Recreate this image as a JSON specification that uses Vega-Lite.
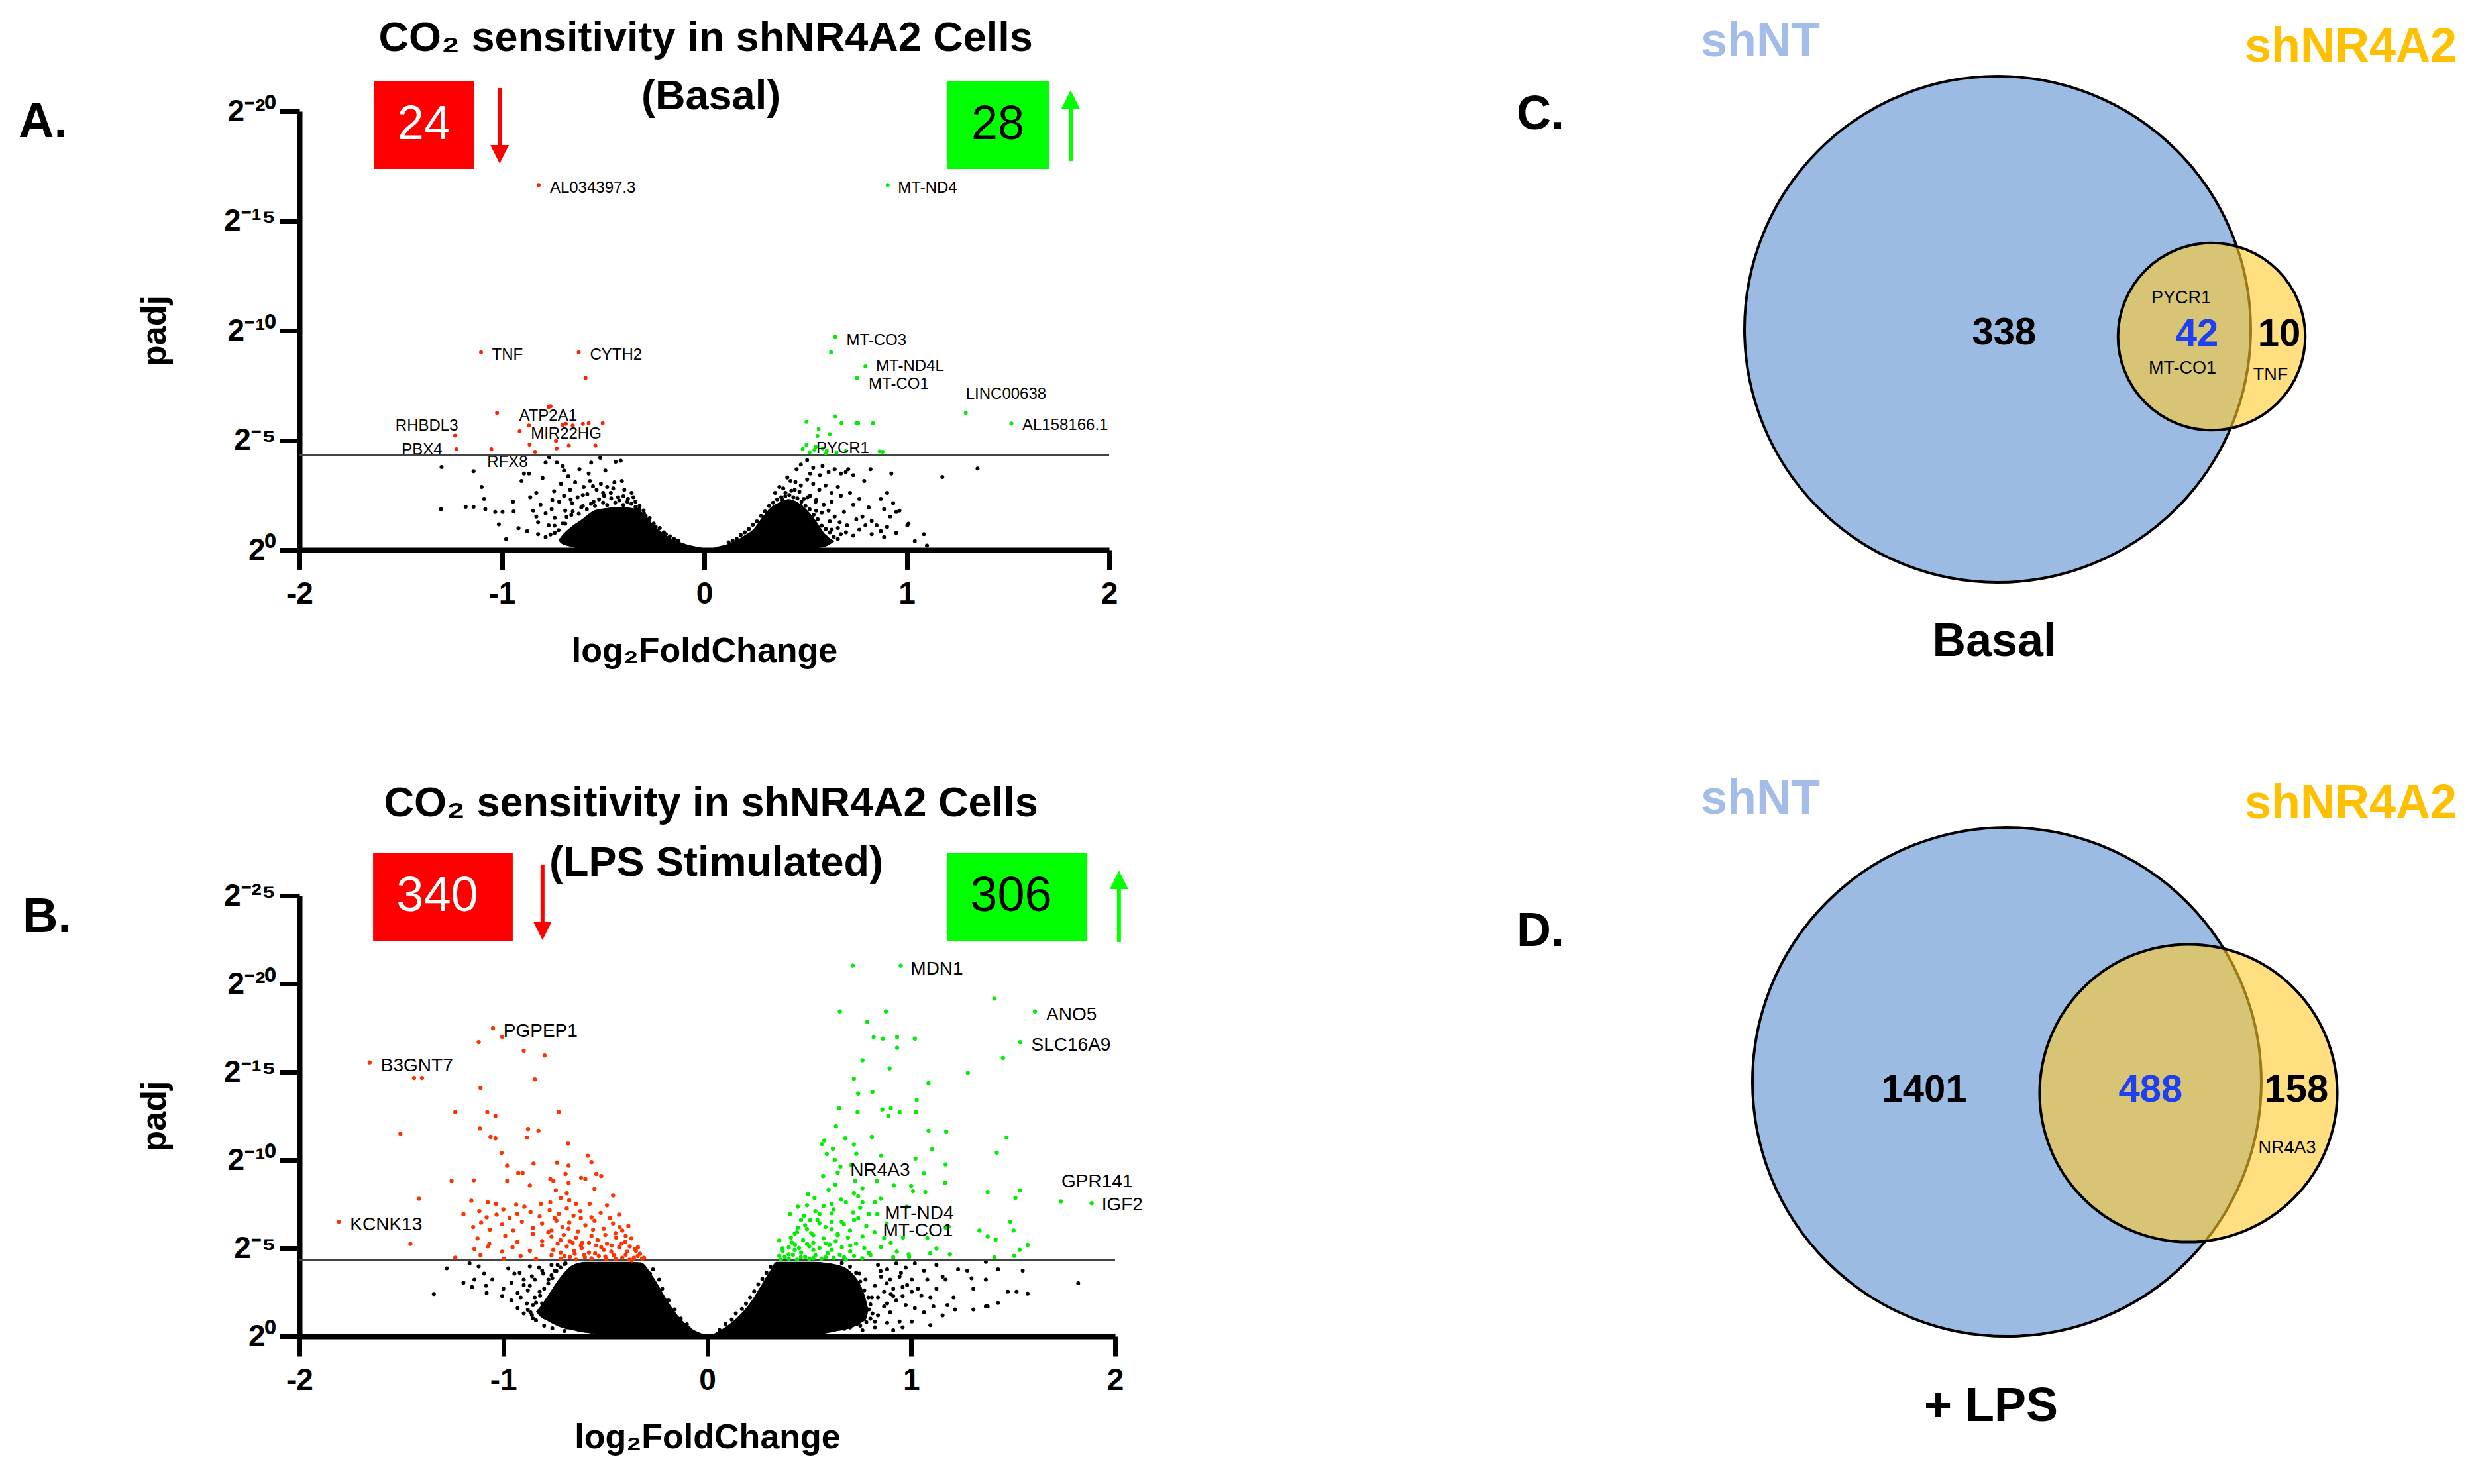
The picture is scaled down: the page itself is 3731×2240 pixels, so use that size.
{
"$schema": "https://vega.github.io/schema/vega-lite/v6.json",
"autosize": {"type": "none"},
"padding": {"left": 452, "top": 168, "right": 3279, "bottom": 2072},
"background": "white",
"config": {
 "view": {"stroke": null},
 "font": "Liberation Sans",
 "axis": {"grid": false, "domainColor": "black", "domainWidth": 8, "tickColor": "black", "tickWidth": 7, "tickSize": 30, "labelFont": "Liberation Sans", "labelFontSize": 46, "labelFontWeight": "bold", "labelColor": "black", "titleFont": "Liberation Sans", "titleFontSize": 52, "titleFontWeight": "bold", "titleColor": "black", "labelFlush": false, "labelOverlap": false}
},
"datasets": {
 "A_core": [
  {"lfc":-0.72,"nl":0.45,"nl2":0.45,"side":"L"},{"lfc":-0.708,"nl":0.6,"nl2":0.3,"side":"L"},{"lfc":-0.663,"nl":1.01,"nl2":0.15,"side":"L"},{"lfc":-0.602,"nl":1.41,"nl2":0.06,"side":"L"},{"lfc":-0.541,"nl":1.81,"nl2":0.06,"side":"L"},{"lfc":-0.48,"nl":1.91,"nl2":0.06,"side":"L"},{"lfc":-0.419,"nl":1.96,"nl2":0.06,"side":"L"},{"lfc":-0.359,"nl":1.91,"nl2":0.06,"side":"L"},{"lfc":-0.313,"nl":1.76,"nl2":0.06,"side":"L"},{"lfc":-0.267,"nl":1.31,"nl2":0.06,"side":"L"},{"lfc":-0.222,"nl":0.91,"nl2":0.06,"side":"L"},{"lfc":-0.176,"nl":0.6,"nl2":0.06,"side":"L"},{"lfc":-0.116,"nl":0.35,"nl2":0.06,"side":"L"},{"lfc":-0.055,"nl":0.18,"nl2":0.06,"side":"L"},{"lfc":-0.009,"nl":0.1,"nl2":0.06,"side":"L"},
  {"lfc":0.04,"nl":0.08,"nl2":0.06,"side":"R"},{"lfc":0.067,"nl":0.15,"nl2":0.06,"side":"R"},{"lfc":0.128,"nl":0.3,"nl2":0.06,"side":"R"},{"lfc":0.188,"nl":0.6,"nl2":0.06,"side":"R"},{"lfc":0.249,"nl":1.01,"nl2":0.06,"side":"R"},{"lfc":0.28,"nl":1.41,"nl2":0.06,"side":"R"},{"lfc":0.325,"nl":1.91,"nl2":0.06,"side":"R"},{"lfc":0.371,"nl":2.17,"nl2":0.06,"side":"R"},{"lfc":0.416,"nl":2.32,"nl2":0.06,"side":"R"},{"lfc":0.462,"nl":2.17,"nl2":0.06,"side":"R"},{"lfc":0.508,"nl":1.81,"nl2":0.06,"side":"R"},{"lfc":0.553,"nl":1.31,"nl2":0.08,"side":"R"},{"lfc":0.599,"nl":0.7,"nl2":0.15,"side":"R"},{"lfc":0.644,"nl":0.4,"nl2":0.4,"side":"R"}
 ],
 "A_ns": [
  {"lfc":-1.298,"nl":3.78},{"lfc":-1.14,"nl":3.59},{"lfc":-1.1,"nl":2.87},{"lfc":-1.088,"nl":2.33},{"lfc":-1.301,"nl":1.86},{"lfc":-1.179,"nl":1.96},{"lfc":-1.14,"nl":1.96},{"lfc":-1.082,"nl":1.86},{"lfc":-1.033,"nl":1.73},{"lfc":-0.997,"nl":1.73},{"lfc":-1.015,"nl":1.16},{"lfc":-0.979,"nl":0.49},{"lfc":-0.945,"nl":2.2},{"lfc":-0.942,"nl":1.75},{"lfc":-0.918,"nl":0.99},{"lfc":-0.903,"nl":3.14},{"lfc":-0.891,"nl":3.48},{"lfc":-0.866,"nl":3.48},{"lfc":-0.799,"nl":3.28},{"lfc":-0.766,"nl":4.22},{"lfc":-0.784,"nl":3.98},{"lfc":-0.729,"nl":3.98},{"lfc":-0.693,"nl":3.62},{"lfc":-0.672,"nl":3.35},{"lfc":-0.559,"nl":3.98},{"lfc":-0.514,"nl":4.2},{"lfc":-0.489,"nl":3.62},{"lfc":-0.438,"nl":4.02},{"lfc":-0.413,"nl":4.06},{"lfc":-0.742,"nl":2.67},{"lfc":-0.751,"nl":2.27},
  {"lfc":-0.845,"nl":1.79},{"lfc":-0.83,"nl":1.52},{"lfc":-0.821,"nl":1.26},{"lfc":-0.809,"nl":2.06},{"lfc":-0.784,"nl":1.66},{"lfc":-0.769,"nl":1.12},{"lfc":-0.754,"nl":1.86},{"lfc":-0.739,"nl":1.46},{"lfc":-0.717,"nl":2.2},{"lfc":-0.708,"nl":3.01},{"lfc":-0.693,"nl":2.47},{"lfc":-0.687,"nl":1.79},{"lfc":-0.663,"nl":2.74},{"lfc":-0.653,"nl":2.13},{"lfc":-0.638,"nl":3.08},{"lfc":-0.626,"nl":2.4},{"lfc":-0.608,"nl":1.93},{"lfc":-0.596,"nl":2.87},{"lfc":-0.578,"nl":2.54},{"lfc":-0.565,"nl":3.14},{"lfc":-0.547,"nl":2.2},{"lfc":-0.532,"nl":2.74},{"lfc":-0.511,"nl":3.01},{"lfc":-0.495,"nl":2.47},{"lfc":-0.48,"nl":2.87},{"lfc":-0.462,"nl":2.6},{"lfc":-0.444,"nl":3.08},{"lfc":-0.426,"nl":2.4},{"lfc":-0.407,"nl":3.14},{"lfc":-0.395,"nl":2.74},{"lfc":-0.377,"nl":2.33},{"lfc":-0.359,"nl":2.6},{"lfc":-0.34,"nl":2.2},{"lfc":-0.322,"nl":1.86},{"lfc":-0.298,"nl":1.66},{"lfc":-0.274,"nl":1.39},{"lfc":-0.821,"nl":0.72},{"lfc":-0.784,"nl":0.58},{"lfc":-0.739,"nl":0.78},{"lfc":-0.708,"nl":0.45},{"lfc":-0.875,"nl":0.85},{"lfc":-0.617,"nl":3.68},{"lfc":-0.571,"nl":3.48},{"lfc":-0.699,"nl":3.82},{"lfc":-0.83,"nl":2.6},{"lfc":-0.86,"nl":2.4},{"lfc":-0.657,"nl":1.59},{"lfc":-0.687,"nl":1.19},{"lfc":-0.647,"nl":0.85},{"lfc":-0.626,"nl":0.58},
  {"lfc":-0.7,"nl":1.2},{"lfc":-0.68,"nl":1.5},{"lfc":-0.65,"nl":1.75},{"lfc":-0.62,"nl":1.65},{"lfc":-0.6,"nl":2.0},{"lfc":-0.58,"nl":1.85},{"lfc":-0.56,"nl":2.1},{"lfc":-0.54,"nl":2.0},{"lfc":-0.52,"nl":2.3},{"lfc":-0.5,"nl":2.15},{"lfc":-0.48,"nl":2.05},{"lfc":-0.46,"nl":2.35},{"lfc":-0.44,"nl":2.15},{"lfc":-0.42,"nl":2.25},{"lfc":-0.4,"nl":2.05},{"lfc":-0.38,"nl":2.2},{"lfc":-0.36,"nl":2.1},{"lfc":-0.34,"nl":1.95},{"lfc":-0.32,"nl":2.0},{"lfc":-0.3,"nl":1.8},{"lfc":-0.29,"nl":1.55},{"lfc":-0.27,"nl":1.45},{"lfc":-0.25,"nl":1.2},{"lfc":-0.24,"nl":1.05},{"lfc":-0.22,"nl":1.0},{"lfc":-0.2,"nl":0.8},{"lfc":-0.19,"nl":0.72},{"lfc":-0.17,"nl":0.62},{"lfc":-0.15,"nl":0.5},{"lfc":-0.13,"nl":0.42},{"lfc":-0.72,"nl":0.9},{"lfc":-0.74,"nl":1.1},{"lfc":-0.76,"nl":0.7},{"lfc":-0.66,"nl":2.3},{"lfc":-0.6,"nl":2.5},{"lfc":-0.5,"nl":2.6},{"lfc":-0.45,"nl":2.8},{"lfc":-0.4,"nl":2.45},{"lfc":-0.35,"nl":2.4},{"lfc":-0.55,"nl":2.9},
  {"lfc":1.176,"nl":3.32},{"lfc":1.35,"nl":3.71},{"lfc":0.924,"nl":3.48},{"lfc":0.821,"nl":3.68},{"lfc":0.79,"nl":3.14},{"lfc":0.711,"nl":3.68},{"lfc":0.699,"nl":3.55},{"lfc":0.675,"nl":3.48},{"lfc":0.644,"nl":3.68},{"lfc":0.614,"nl":3.55},{"lfc":0.584,"nl":3.82},{"lfc":0.538,"nl":3.75},{"lfc":0.508,"nl":4.09},{"lfc":0.477,"nl":3.89},{"lfc":0.456,"nl":3.68},{"lfc":0.523,"nl":3.48},{"lfc":0.571,"nl":3.41},{"lfc":0.736,"nl":3.41},{"lfc":0.903,"nl":2.6},{"lfc":0.872,"nl":2.33},{"lfc":0.888,"nl":1.86},{"lfc":0.933,"nl":2.13},{"lfc":0.948,"nl":1.73},{"lfc":0.918,"nl":1.52},{"lfc":0.964,"nl":1.79},{"lfc":0.812,"nl":1.93},{"lfc":0.781,"nl":1.52},{"lfc":0.827,"nl":1.32},{"lfc":0.851,"nl":1.12},{"lfc":1.003,"nl":1.12},{"lfc":1.009,"nl":1.19},{"lfc":0.903,"nl":1.05},{"lfc":0.872,"nl":0.85},{"lfc":0.948,"nl":0.78},{"lfc":1.04,"nl":0.4},{"lfc":1.085,"nl":0.72},{"lfc":1.1,"nl":0.2},{"lfc":0.766,"nl":0.92},{"lfc":0.736,"nl":0.65},{"lfc":0.705,"nl":1.12},{"lfc":0.69,"nl":1.73},{"lfc":0.675,"nl":2.47},{"lfc":0.66,"nl":2.87},{"lfc":0.629,"nl":2.6},{"lfc":0.599,"nl":2.94},{"lfc":0.568,"nl":2.74},{"lfc":0.538,"nl":3.01},{"lfc":0.508,"nl":3.21},{"lfc":0.477,"nl":2.94},{"lfc":0.447,"nl":2.74},{"lfc":0.426,"nl":3.14},{"lfc":0.401,"nl":2.6},{"lfc":0.386,"nl":2.27},{"lfc":0.371,"nl":2.87},{"lfc":0.553,"nl":2.27},{"lfc":0.59,"nl":2.06},{"lfc":0.614,"nl":1.79},{"lfc":0.644,"nl":1.52},{"lfc":0.669,"nl":1.26},{"lfc":0.629,"nl":0.92},{"lfc":0.675,"nl":0.72},{"lfc":0.599,"nl":0.58},{"lfc":0.568,"nl":0.38},{"lfc":0.736,"nl":2.06},{"lfc":0.766,"nl":2.33},{"lfc":0.72,"nl":2.6},{"lfc":0.629,"nl":2.2},{"lfc":0.523,"nl":2.47},{"lfc":0.492,"nl":2.33},{"lfc":0.553,"nl":1.79},{"lfc":0.477,"nl":2.0},{"lfc":0.751,"nl":1.39},{"lfc":0.796,"nl":1.12},{"lfc":0.827,"nl":0.72},{"lfc":0.888,"nl":0.58},
  {"lfc":0.12,"nl":0.35},{"lfc":0.14,"nl":0.42},{"lfc":0.16,"nl":0.5},{"lfc":0.18,"nl":0.68},{"lfc":0.2,"nl":0.8},{"lfc":0.22,"nl":0.95},{"lfc":0.24,"nl":1.15},{"lfc":0.26,"nl":1.3},{"lfc":0.28,"nl":1.55},{"lfc":0.3,"nl":1.75},{"lfc":0.32,"nl":2.0},{"lfc":0.34,"nl":2.15},{"lfc":0.36,"nl":2.3},{"lfc":0.38,"nl":2.4},{"lfc":0.4,"nl":2.45},{"lfc":0.42,"nl":2.5},{"lfc":0.44,"nl":2.4},{"lfc":0.46,"nl":2.35},{"lfc":0.48,"nl":2.2},{"lfc":0.5,"nl":2.0},{"lfc":0.52,"nl":1.85},{"lfc":0.54,"nl":1.6},{"lfc":0.56,"nl":1.4},{"lfc":0.58,"nl":1.1},{"lfc":0.6,"nl":0.95},{"lfc":0.62,"nl":0.8},{"lfc":0.64,"nl":0.6},{"lfc":0.66,"nl":0.5},{"lfc":0.35,"nl":2.6},{"lfc":0.39,"nl":2.8},{"lfc":0.43,"nl":2.7},{"lfc":0.47,"nl":2.65},{"lfc":0.51,"nl":2.4},{"lfc":0.45,"nl":3.1},{"lfc":0.41,"nl":3.3},{"lfc":0.55,"nl":2.2},{"lfc":0.58,"nl":1.7},{"lfc":0.62,"nl":1.3},{"lfc":0.66,"nl":1.0},{"lfc":0.7,"nl":0.8}
 ],
 "A_dn": [
  {"lfc":-0.818,"nl":16.64},{"lfc":-1.103,"nl":9.01},{"lfc":-0.62,"nl":9.01},{"lfc":-0.587,"nl":7.84},{"lfc":-0.769,"nl":6.52},{"lfc":-0.76,"nl":6.55},{"lfc":-1.024,"nl":6.25},{"lfc":-0.866,"nl":5.67},{"lfc":-0.684,"nl":5.75},{"lfc":-0.65,"nl":5.67},{"lfc":-0.571,"nl":5.78},{"lfc":-0.502,"nl":5.78},{"lfc":-0.912,"nl":5.41},{"lfc":-1.231,"nl":5.21},{"lfc":-0.733,"nl":4.97},{"lfc":-0.863,"nl":4.8},{"lfc":-0.669,"nl":4.76},{"lfc":-0.538,"nl":4.76},{"lfc":-1.225,"nl":4.59},{"lfc":-1.052,"nl":4.59},{"lfc":-0.73,"nl":4.63},{"lfc":-0.836,"nl":4.47},{"lfc":-0.7,"nl":5.7},{"lfc":-0.6,"nl":5.75}
 ],
 "A_up": [
  {"lfc":0.906,"nl":16.64},{"lfc":0.647,"nl":9.72},{"lfc":0.626,"nl":9.01},{"lfc":0.796,"nl":8.37},{"lfc":0.754,"nl":7.84},{"lfc":1.292,"nl":6.25},{"lfc":1.517,"nl":5.76},{"lfc":0.647,"nl":6.09},{"lfc":0.505,"nl":5.84},{"lfc":0.678,"nl":5.78},{"lfc":0.751,"nl":5.78},{"lfc":0.76,"nl":5.78},{"lfc":0.833,"nl":5.78},{"lfc":0.565,"nl":5.51},{"lfc":0.62,"nl":5.28},{"lfc":0.559,"nl":5.2},{"lfc":0.505,"nl":4.79},{"lfc":0.486,"nl":4.6},{"lfc":0.544,"nl":4.56},{"lfc":0.584,"nl":4.63},{"lfc":0.653,"nl":4.43},{"lfc":0.866,"nl":4.49},{"lfc":0.881,"nl":4.47},{"lfc":0.605,"nl":4.52},{"lfc":0.6,"nl":4.4},{"lfc":0.52,"nl":4.45},{"lfc":0.7,"nl":4.5},{"lfc":0.55,"nl":4.7}
 ],
 "A_lab": [
  {"lfc":-0.763,"nl":16.5,"t":"AL034397.3"},{"lfc":0.957,"nl":16.5,"t":"MT-ND4"},{"lfc":-1.049,"nl":8.88,"t":"TNF"},{"lfc":-0.565,"nl":8.88,"t":"CYTH2"},{"lfc":-0.915,"nl":6.11,"t":"ATP2A1"},{"lfc":-0.857,"nl":5.28,"t":"MIR22HG"},{"lfc":-1.526,"nl":5.64,"t":"RHBDL3"},{"lfc":-1.495,"nl":4.56,"t":"PBX4"},{"lfc":-1.073,"nl":3.98,"t":"RFX8"},{"lfc":0.702,"nl":9.55,"t":"MT-CO3"},{"lfc":0.848,"nl":8.36,"t":"MT-ND4L"},{"lfc":0.812,"nl":7.56,"t":"MT-CO1"},{"lfc":1.292,"nl":7.09,"t":"LINC00638"},{"lfc":1.571,"nl":5.68,"t":"AL158166.1"},{"lfc":0.553,"nl":4.63,"t":"PYCR1"}
 ],
 "A_title": [{"lfc":0.007,"nl":22.75,"t":"CO₂ sensitivity in shNR4A2 Cells"},{"lfc":0.033,"nl":20.09,"t":"(Basal)"}],
 "A_box": [{"lfc":-1.633,"lfc2":-1.136,"nl":21.39,"nl2":17.37,"dir":"down"},{"lfc":1.201,"lfc2":1.702,"nl":21.39,"nl2":17.37,"dir":"up"}],
 "A_cnt": [{"lfc":-1.385,"nl":19.4,"t":"24","dir":"down"},{"lfc":1.45,"nl":19.4,"t":"28","dir":"up"}],
 "A_arrow": [{"lfc":-1.011,"nl":21.06,"nl2":18.43,"dir":"down"},{"lfc":1.81,"nl":17.73,"nl2":20.3,"dir":"up"}],
 "A_head": [{"lfc":-1.011,"nl":18.04,"dir":"down"},{"lfc":1.81,"nl":20.54,"dir":"up"}],
 "A_letter": [{"lfc":-3.388,"nl":18.82,"t":"A."}],
 "B_core": [
  {"lfc":-0.84,"nl":1.4,"nl2":1.4,"side":"L"},{"lfc":-0.825,"nl":1.6,"nl2":1.18,"side":"L"},{"lfc":-0.779,"nl":2.36,"nl2":0.84,"side":"L"},{"lfc":-0.719,"nl":3.38,"nl2":0.51,"side":"L"},{"lfc":-0.659,"nl":4.05,"nl2":0.34,"side":"L"},{"lfc":-0.598,"nl":4.22,"nl2":0.2,"side":"L"},{"lfc":-0.387,"nl":4.22,"nl2":0.08,"side":"L"},{"lfc":-0.326,"nl":4.19,"nl2":0.08,"side":"L"},{"lfc":-0.266,"nl":3.38,"nl2":0.08,"side":"L"},{"lfc":-0.205,"nl":2.2,"nl2":0.08,"side":"L"},{"lfc":-0.145,"nl":1.18,"nl2":0.08,"side":"L"},{"lfc":-0.085,"nl":0.51,"nl2":0.06,"side":"L"},{"lfc":-0.024,"nl":0.14,"nl2":0.06,"side":"L"},
  {"lfc":0.036,"nl":0.17,"nl2":0.06,"side":"R"},{"lfc":0.097,"nl":0.59,"nl2":0.06,"side":"R"},{"lfc":0.157,"nl":1.18,"nl2":0.06,"side":"R"},{"lfc":0.218,"nl":2.03,"nl2":0.06,"side":"R"},{"lfc":0.263,"nl":2.87,"nl2":0.06,"side":"R"},{"lfc":0.308,"nl":3.72,"nl2":0.06,"side":"R"},{"lfc":0.338,"nl":4.22,"nl2":0.06,"side":"R"},{"lfc":0.52,"nl":4.22,"nl2":0.08,"side":"R"},{"lfc":0.64,"nl":4.05,"nl2":0.3,"side":"R"},{"lfc":0.7,"nl":3.7,"nl2":0.45,"side":"R"},{"lfc":0.731,"nl":3.3,"nl2":0.6,"side":"R"},{"lfc":0.76,"nl":2.7,"nl2":0.8,"side":"R"},{"lfc":0.78,"nl":2.0,"nl2":1.0,"side":"R"},{"lfc":0.79,"nl":1.5,"nl2":1.5,"side":"R"}
 ],
 "B_ns": [
  {"lfc":-1.278,"nl":3.85},{"lfc":-1.341,"nl":2.4},{"lfc":-1.196,"nl":3.04},{"lfc":-1.166,"nl":4.14},{"lfc":-1.121,"nl":3.97},{"lfc":-1.154,"nl":2.79},{"lfc":-1.085,"nl":2.87},{"lfc":-1.094,"nl":3.55},{"lfc":-1.054,"nl":3.21},{"lfc":-1.0,"nl":2.7},{"lfc":-0.961,"nl":3.04},{"lfc":-0.87,"nl":3.97},{"lfc":-0.93,"nl":2.45},{"lfc":-0.915,"nl":2.2},{"lfc":-0.9,"nl":1.3},{"lfc":-0.867,"nl":1.35},{"lfc":-0.825,"nl":1.44},{"lfc":-0.855,"nl":1.77},{"lfc":-0.81,"nl":3.72},{"lfc":-0.764,"nl":3.46},{"lfc":-0.734,"nl":4.05},
  {"lfc":-0.976,"nl":3.85},{"lfc":-0.946,"nl":3.55},{"lfc":-0.9,"nl":3.21},{"lfc":-0.87,"nl":2.87},{"lfc":-0.846,"nl":3.21},{"lfc":-0.822,"nl":2.53},{"lfc":-0.846,"nl":2.2},{"lfc":-0.885,"nl":1.86},{"lfc":-0.81,"nl":1.86},{"lfc":-0.855,"nl":1.01},{"lfc":-0.81,"nl":1.18},{"lfc":-0.779,"nl":3.21},{"lfc":-0.804,"nl":3.55},{"lfc":-0.749,"nl":3.72},{"lfc":-0.825,"nl":3.89},{"lfc":-0.93,"nl":1.6},{"lfc":-0.961,"nl":2.03},{"lfc":-1.006,"nl":2.28},{"lfc":-1.082,"nl":2.45},{"lfc":-1.142,"nl":3.21},{"lfc":-0.719,"nl":0.76},{"lfc":-0.689,"nl":0.51},{"lfc":-0.628,"nl":0.34},{"lfc":-0.749,"nl":0.84},{"lfc":-0.568,"nl":0.25},{"lfc":-0.508,"nl":0.17},{"lfc":-0.764,"nl":4.05},{"lfc":-0.695,"nl":4.14},{"lfc":-0.266,"nl":3.8},{"lfc":-0.236,"nl":3.21},{"lfc":-0.281,"nl":3.55},{"lfc":-0.221,"nl":2.7},{"lfc":-0.19,"nl":2.03},{"lfc":-0.16,"nl":1.52},{"lfc":-0.13,"nl":1.01},{"lfc":-0.1,"nl":0.68},
  {"lfc":-0.84,"nl":1.9},{"lfc":-0.82,"nl":2.3},{"lfc":-0.8,"nl":2.7},{"lfc":-0.78,"nl":3.0},{"lfc":-0.76,"nl":3.3},{"lfc":-0.74,"nl":3.7},{"lfc":-0.72,"nl":3.9},{"lfc":-0.7,"nl":4.1},{"lfc":-0.88,"nl":1.5},{"lfc":-0.86,"nl":1.2},{"lfc":-0.84,"nl":0.9},{"lfc":-0.8,"nl":0.6},{"lfc":-0.76,"nl":0.45},{"lfc":-0.7,"nl":0.3},{"lfc":-0.31,"nl":3.9},{"lfc":-0.29,"nl":3.6},{"lfc":-0.27,"nl":3.1},{"lfc":-0.25,"nl":2.8},{"lfc":-0.23,"nl":2.4},{"lfc":-0.21,"nl":2.0},{"lfc":-0.19,"nl":1.6},{"lfc":-0.17,"nl":1.35},{"lfc":-0.15,"nl":1.05},{"lfc":-0.13,"nl":0.8},{"lfc":-0.11,"nl":0.6},{"lfc":-0.09,"nl":0.45},{"lfc":-0.92,"nl":3.6},{"lfc":-0.9,"nl":2.9},{"lfc":-0.88,"nl":2.6},{"lfc":-0.86,"nl":3.4},
  {"lfc":1.275,"nl":3.72},{"lfc":1.296,"nl":3.29},{"lfc":1.366,"nl":3.21},{"lfc":1.426,"nl":3.8},{"lfc":1.547,"nl":3.72},{"lfc":1.366,"nl":4.22},{"lfc":1.819,"nl":3.01},{"lfc":1.571,"nl":2.42},{"lfc":1.474,"nl":2.53},{"lfc":1.426,"nl":1.89},{"lfc":1.375,"nl":1.69},{"lfc":1.305,"nl":1.52},{"lfc":1.208,"nl":2.2},{"lfc":1.178,"nl":1.77},{"lfc":1.094,"nl":0.63},{"lfc":1.003,"nl":0.84},{"lfc":0.943,"nl":0.84},{"lfc":0.897,"nl":1.35},{"lfc":1.124,"nl":4.05},{"lfc":1.154,"nl":3.38},{"lfc":1.079,"nl":3.21},{"lfc":1.003,"nl":2.53},{"lfc":1.033,"nl":2.7},{"lfc":0.958,"nl":2.79},{"lfc":0.912,"nl":2.28},{"lfc":0.867,"nl":1.69},{"lfc":0.822,"nl":0.84},{"lfc":0.761,"nl":0.34},
  {"lfc":0.837,"nl":4.05},{"lfc":0.882,"nl":3.8},{"lfc":0.927,"nl":4.14},{"lfc":0.973,"nl":3.89},{"lfc":1.018,"nl":4.14},{"lfc":1.063,"nl":3.72},{"lfc":0.852,"nl":3.38},{"lfc":0.897,"nl":3.21},{"lfc":0.943,"nl":3.38},{"lfc":1.003,"nl":3.21},{"lfc":0.822,"nl":2.87},{"lfc":0.867,"nl":2.53},{"lfc":0.912,"nl":2.7},{"lfc":0.958,"nl":2.28},{"lfc":0.837,"nl":2.2},{"lfc":0.882,"nl":1.86},{"lfc":0.927,"nl":2.03},{"lfc":0.973,"nl":1.77},{"lfc":1.018,"nl":1.6},{"lfc":1.063,"nl":1.35},{"lfc":1.109,"nl":1.69},{"lfc":1.154,"nl":1.18},{"lfc":1.215,"nl":1.52},{"lfc":0.837,"nl":1.18},{"lfc":0.792,"nl":1.52},{"lfc":0.807,"nl":2.2},{"lfc":0.776,"nl":3.21},{"lfc":0.746,"nl":3.55},{"lfc":0.822,"nl":0.51},{"lfc":0.882,"nl":0.76},{"lfc":0.958,"nl":0.51},{"lfc":0.912,"nl":0.34},{"lfc":1.094,"nl":2.2},{"lfc":1.124,"nl":2.7},{"lfc":1.169,"nl":3.21},{"lfc":1.23,"nl":3.8},{"lfc":1.305,"nl":2.7},{"lfc":1.366,"nl":1.69},{"lfc":1.517,"nl":2.53},{"lfc":0.731,"nl":0.68},{"lfc":0.671,"nl":0.42},{"lfc":0.701,"nl":1.01},{"lfc":0.761,"nl":1.18},{"lfc":0.731,"nl":1.86},{"lfc":0.701,"nl":2.53},
  {"lfc":0.06,"nl":0.35},{"lfc":0.09,"nl":0.7},{"lfc":0.12,"nl":0.95},{"lfc":0.14,"nl":1.3},{"lfc":0.17,"nl":1.55},{"lfc":0.19,"nl":1.85},{"lfc":0.21,"nl":2.2},{"lfc":0.23,"nl":2.55},{"lfc":0.25,"nl":2.95},{"lfc":0.27,"nl":3.25},{"lfc":0.29,"nl":3.6},{"lfc":0.31,"nl":3.95},{"lfc":0.66,"nl":4.15},{"lfc":0.7,"nl":3.95},{"lfc":0.73,"nl":3.6},{"lfc":0.75,"nl":3.1},{"lfc":0.77,"nl":2.6},{"lfc":0.79,"nl":2.2},{"lfc":0.8,"nl":1.8},{"lfc":0.81,"nl":1.3},{"lfc":0.8,"nl":1.0},{"lfc":0.78,"nl":0.8},{"lfc":0.75,"nl":0.6},{"lfc":0.7,"nl":0.5},{"lfc":0.85,"nl":3.7},{"lfc":0.88,"nl":3.0},{"lfc":0.9,"nl":2.4},{"lfc":0.95,"nl":3.6},{"lfc":0.98,"nl":2.9},{"lfc":1.05,"nl":2.3}
 ],
 "B_dn": [
  {"lfc":-1.807,"nl":6.5},{"lfc":-1.656,"nl":15.54},{"lfc":-1.438,"nl":14.66},{"lfc":-1.399,"nl":14.66},{"lfc":-1.505,"nl":11.49},{"lfc":-1.414,"nl":7.8},{"lfc":-1.456,"nl":5.24},{"lfc":-1.254,"nl":8.82},{"lfc":-1.145,"nl":8.85},{"lfc":-1.051,"nl":17.48},{"lfc":-1.006,"nl":16.99},{"lfc":-1.121,"nl":16.69},{"lfc":-0.9,"nl":16.2},{"lfc":-0.798,"nl":15.93},{"lfc":-0.846,"nl":14.58},{"lfc":-1.112,"nl":14.09},{"lfc":-1.236,"nl":12.72},{"lfc":-1.079,"nl":12.72},{"lfc":-1.039,"nl":12.5},{"lfc":-0.728,"nl":12.72},{"lfc":-1.115,"nl":11.79},{"lfc":-0.879,"nl":11.76},{"lfc":-0.828,"nl":11.66},{"lfc":-1.063,"nl":11.32},{"lfc":-1.039,"nl":11.23},{"lfc":-0.885,"nl":11.28},{"lfc":-0.683,"nl":10.93},{"lfc":-1.009,"nl":10.41},{"lfc":-0.586,"nl":10.24},{"lfc":-0.982,"nl":9.68},{"lfc":-0.852,"nl":9.8},{"lfc":-0.737,"nl":9.86},{"lfc":-0.68,"nl":9.68},{"lfc":-0.568,"nl":9.88},{"lfc":-0.927,"nl":9.26},{"lfc":-0.906,"nl":9.26},{"lfc":-0.695,"nl":9.21},{"lfc":-0.544,"nl":9.21},{"lfc":-0.52,"nl":9.09},{"lfc":-0.77,"nl":8.92},{"lfc":-0.755,"nl":8.82},{"lfc":-0.68,"nl":8.7},{"lfc":-0.619,"nl":8.99},{"lfc":-0.598,"nl":8.92},{"lfc":-0.982,"nl":8.82},{"lfc":-0.87,"nl":8.56},{"lfc":-0.743,"nl":8.28},{"lfc":-0.689,"nl":8.11},{"lfc":-0.553,"nl":8.36},{"lfc":-0.462,"nl":7.99},{"lfc":-1.157,"nl":7.69},{"lfc":-1.076,"nl":7.6},{"lfc":-1.036,"nl":7.52},{"lfc":-0.937,"nl":7.47},{"lfc":-0.897,"nl":7.35},{"lfc":-0.816,"nl":7.52},{"lfc":-0.77,"nl":7.6},{"lfc":-0.719,"nl":7.85},{"lfc":-0.677,"nl":7.72},{"lfc":-0.644,"nl":7.52},{"lfc":-0.577,"nl":7.52},{"lfc":-0.492,"nl":7.43},
  {"lfc":-1.196,"nl":6.93},{"lfc":-1.118,"nl":7.1},{"lfc":-1.082,"nl":6.75},{"lfc":-1.033,"nl":6.9},{"lfc":-1.0,"nl":7.2},{"lfc":-0.97,"nl":6.7},{"lfc":-0.931,"nl":6.95},{"lfc":-0.867,"nl":7.05},{"lfc":-0.822,"nl":6.8},{"lfc":-0.773,"nl":7.15},{"lfc":-0.749,"nl":6.7},{"lfc":-0.728,"nl":6.95},{"lfc":-0.689,"nl":7.25},{"lfc":-0.656,"nl":6.85},{"lfc":-0.622,"nl":7.1},{"lfc":-0.568,"nl":6.75},{"lfc":-0.523,"nl":7.0},{"lfc":-0.477,"nl":6.7},{"lfc":-0.432,"nl":6.9},
  {"lfc":-1.148,"nl":6.2},{"lfc":-1.109,"nl":6.45},{"lfc":-1.066,"nl":6.05},{"lfc":-1.006,"nl":6.35},{"lfc":-0.952,"nl":6.0},{"lfc":-0.909,"nl":6.5},{"lfc":-0.855,"nl":6.15},{"lfc":-0.81,"nl":6.4},{"lfc":-0.764,"nl":6.0},{"lfc":-0.74,"nl":6.55},{"lfc":-0.71,"nl":6.2},{"lfc":-0.677,"nl":6.45},{"lfc":-0.634,"nl":5.95},{"lfc":-0.598,"nl":6.3},{"lfc":-0.553,"nl":6.55},{"lfc":-0.508,"nl":6.1},{"lfc":-0.462,"nl":6.4},{"lfc":-0.417,"nl":6.0},{"lfc":-0.387,"nl":6.25},
  {"lfc":-1.127,"nl":5.55},{"lfc":-1.069,"nl":5.25},{"lfc":-0.991,"nl":5.7},{"lfc":-0.931,"nl":5.35},{"lfc":-0.855,"nl":5.8},{"lfc":-0.81,"nl":5.4},{"lfc":-0.764,"nl":5.65},{"lfc":-0.734,"nl":5.25},{"lfc":-0.704,"nl":5.75},{"lfc":-0.674,"nl":5.4},{"lfc":-0.644,"nl":5.6},{"lfc":-0.613,"nl":5.3},{"lfc":-0.568,"nl":5.7},{"lfc":-0.538,"nl":5.45},{"lfc":-0.492,"nl":5.25},{"lfc":-0.447,"nl":5.6},{"lfc":-0.402,"nl":5.35},{"lfc":-0.372,"nl":5.55},
  {"lfc":-1.142,"nl":4.95},{"lfc":-1.076,"nl":5.1},{"lfc":-1.006,"nl":4.8},{"lfc":-0.955,"nl":5.05},{"lfc":-0.87,"nl":4.85},{"lfc":-0.81,"nl":5.15},{"lfc":-0.755,"nl":4.9},{"lfc":-0.719,"nl":4.75},{"lfc":-0.689,"nl":5.1},{"lfc":-0.653,"nl":4.85},{"lfc":-0.616,"nl":5.0},{"lfc":-0.58,"nl":4.75},{"lfc":-0.544,"nl":5.15},{"lfc":-0.508,"nl":4.9},{"lfc":-0.471,"nl":4.8},{"lfc":-0.432,"nl":5.05},{"lfc":-0.393,"nl":4.8},{"lfc":-0.356,"nl":4.95},
  {"lfc":-1.236,"nl":4.46},{"lfc":-1.112,"nl":4.6},{"lfc":-0.997,"nl":4.4},{"lfc":-0.915,"nl":4.55},{"lfc":-0.84,"nl":4.38},{"lfc":-0.764,"nl":4.6},{"lfc":-0.719,"nl":4.4},{"lfc":-0.674,"nl":4.5},{"lfc":-0.644,"nl":4.35},{"lfc":-0.604,"nl":4.62},{"lfc":-0.568,"nl":4.42},{"lfc":-0.532,"nl":4.55},{"lfc":-0.495,"nl":4.36},{"lfc":-0.459,"nl":4.6},{"lfc":-0.417,"nl":4.45},{"lfc":-0.381,"nl":4.35},{"lfc":-0.341,"nl":4.55},{"lfc":-0.32,"nl":4.4},
  {"lfc":-0.6,"nl":4.48},{"lfc":-0.55,"nl":4.7},{"lfc":-0.5,"nl":4.52},{"lfc":-0.45,"nl":4.38},{"lfc":-0.4,"nl":4.62},{"lfc":-0.36,"nl":4.45},{"lfc":-0.33,"nl":4.68},{"lfc":-0.65,"nl":4.68},{"lfc":-0.7,"nl":4.55},{"lfc":-0.62,"nl":5.15},{"lfc":-0.58,"nl":5.3},{"lfc":-0.52,"nl":5.05},{"lfc":-0.47,"nl":5.15},{"lfc":-0.42,"nl":5.25},{"lfc":-0.38,"nl":5.1},{"lfc":-0.35,"nl":4.85},{"lfc":-0.34,"nl":5.05},{"lfc":-0.66,"nl":5.3},{"lfc":-0.72,"nl":5.45},{"lfc":-0.45,"nl":5.85},{"lfc":-0.43,"nl":6.2},{"lfc":-0.5,"nl":5.75},{"lfc":-0.56,"nl":6.05},{"lfc":-0.68,"nl":6.1},{"lfc":-0.78,"nl":5.9},{"lfc":-0.62,"nl":6.7},{"lfc":-0.4,"nl":5.7},{"lfc":-0.37,"nl":4.3},{"lfc":-0.31,"nl":4.45}
 ],
 "B_up": [
  {"lfc":0.713,"nl":21.03},{"lfc":0.949,"nl":21.03},{"lfc":1.408,"nl":19.16},{"lfc":1.607,"nl":18.43},{"lfc":0.65,"nl":18.43},{"lfc":0.876,"nl":18.43},{"lfc":0.785,"nl":17.84},{"lfc":0.816,"nl":16.98},{"lfc":0.861,"nl":16.89},{"lfc":0.931,"nl":16.98},{"lfc":1.018,"nl":16.89},{"lfc":0.931,"nl":16.37},{"lfc":1.535,"nl":16.69},{"lfc":1.45,"nl":15.79},{"lfc":0.761,"nl":15.66},{"lfc":0.894,"nl":15.2},{"lfc":1.278,"nl":14.95},{"lfc":0.719,"nl":14.61},{"lfc":1.085,"nl":14.36},{"lfc":0.74,"nl":13.77},{"lfc":0.81,"nl":13.87},{"lfc":1.027,"nl":13.41},{"lfc":0.647,"nl":12.94},{"lfc":0.737,"nl":12.72},{"lfc":0.858,"nl":12.87},{"lfc":0.9,"nl":12.94},{"lfc":0.888,"nl":12.5},{"lfc":0.943,"nl":12.72},{"lfc":1.024,"nl":12.72},{"lfc":0.631,"nl":11.91},{"lfc":0.677,"nl":11.23},{"lfc":0.807,"nl":11.32},{"lfc":1.085,"nl":11.66},{"lfc":1.172,"nl":11.62},{"lfc":1.468,"nl":11.28},{"lfc":0.574,"nl":11.11},{"lfc":0.562,"nl":10.9},{"lfc":0.616,"nl":10.64},{"lfc":0.719,"nl":10.88},{"lfc":1.103,"nl":10.61},{"lfc":1.42,"nl":10.42},{"lfc":0.586,"nl":10.34},{"lfc":0.731,"nl":10.35},{"lfc":0.852,"nl":10.24},{"lfc":1.021,"nl":10.08},{"lfc":0.625,"nl":10.0},{"lfc":0.707,"nl":9.71},{"lfc":0.653,"nl":9.63},{"lfc":1.169,"nl":9.75},{"lfc":0.64,"nl":9.29},{"lfc":0.568,"nl":9.09},{"lfc":1.063,"nl":9.24},{"lfc":0.725,"nl":8.82},{"lfc":0.831,"nl":8.82},{"lfc":0.628,"nl":8.61},{"lfc":0.915,"nl":8.56},{"lfc":1.0,"nl":8.53},{"lfc":1.166,"nl":8.7},{"lfc":0.761,"nl":8.4},{"lfc":0.595,"nl":8.31},{"lfc":1.009,"nl":8.23},{"lfc":1.069,"nl":8.19},{"lfc":1.375,"nl":8.19},{"lfc":1.535,"nl":8.28},{"lfc":0.495,"nl":8.06},{"lfc":0.719,"nl":8.11},{"lfc":0.526,"nl":7.85},{"lfc":0.656,"nl":7.77},{"lfc":0.74,"nl":7.94},{"lfc":1.511,"nl":7.85},{"lfc":1.734,"nl":7.65},{"lfc":1.885,"nl":7.55},{"lfc":0.444,"nl":7.35},{"lfc":0.489,"nl":7.43},{"lfc":0.61,"nl":7.52},{"lfc":0.761,"nl":7.6},{"lfc":0.822,"nl":7.6},{"lfc":0.979,"nl":7.35},{"lfc":0.405,"nl":6.93},{"lfc":0.474,"nl":6.84},{"lfc":0.55,"nl":6.93},{"lfc":0.61,"nl":6.98},{"lfc":0.716,"nl":7.01},{"lfc":0.792,"nl":6.93},{"lfc":0.834,"nl":6.93},{"lfc":1.486,"nl":6.5},{"lfc":0.505,"nl":6.59},{"lfc":0.55,"nl":6.42},{"lfc":0.659,"nl":6.5},{"lfc":1.184,"nl":6.22},{"lfc":1.169,"nl":6.17},{"lfc":0.444,"nl":6.17},{"lfc":0.489,"nl":6.08},{"lfc":0.61,"nl":6.08},{"lfc":1.335,"nl":6.0},{"lfc":1.502,"nl":6.0},{"lfc":0.429,"nl":5.83},{"lfc":0.52,"nl":5.74},{"lfc":0.64,"nl":5.74},{"lfc":0.761,"nl":5.66},{"lfc":0.867,"nl":5.57},{"lfc":1.079,"nl":5.57},{"lfc":1.375,"nl":5.66},{"lfc":1.414,"nl":5.49},{"lfc":0.353,"nl":5.44},{"lfc":0.414,"nl":5.32},{"lfc":0.489,"nl":5.24},{"lfc":0.58,"nl":5.27},{"lfc":0.701,"nl":5.15},{"lfc":0.852,"nl":5.07},{"lfc":1.571,"nl":5.19},{"lfc":0.369,"nl":4.98},{"lfc":0.429,"nl":4.9},{"lfc":0.52,"nl":4.9},{"lfc":0.61,"nl":4.9},{"lfc":0.701,"nl":4.81},{"lfc":0.792,"nl":4.73},{"lfc":1.124,"nl":4.98},{"lfc":1.532,"nl":4.9},{"lfc":0.353,"nl":4.56},{"lfc":0.399,"nl":4.65},{"lfc":0.459,"nl":4.48},{"lfc":0.52,"nl":4.43},{"lfc":0.58,"nl":4.48},{"lfc":0.671,"nl":4.48},{"lfc":0.912,"nl":4.48},{"lfc":0.988,"nl":4.65},{"lfc":1.094,"nl":4.7},{"lfc":1.19,"nl":4.65},{"lfc":1.408,"nl":4.48},{"lfc":1.505,"nl":4.56},
  {"lfc":0.36,"nl":4.35},{"lfc":0.38,"nl":4.5},{"lfc":0.4,"nl":4.4},{"lfc":0.42,"nl":4.62},{"lfc":0.44,"nl":4.35},{"lfc":0.46,"nl":4.75},{"lfc":0.48,"nl":4.5},{"lfc":0.5,"nl":4.38},{"lfc":0.53,"nl":4.6},{"lfc":0.56,"nl":4.4},{"lfc":0.59,"nl":4.7},{"lfc":0.62,"nl":4.45},{"lfc":0.65,"nl":4.62},{"lfc":0.68,"nl":4.35},{"lfc":0.72,"nl":4.55},{"lfc":0.76,"nl":4.42},{"lfc":0.8,"nl":4.6},{"lfc":0.37,"nl":4.85},{"lfc":0.4,"nl":5.05},{"lfc":0.43,"nl":5.2},{"lfc":0.45,"nl":5.0},{"lfc":0.47,"nl":5.45},{"lfc":0.5,"nl":5.1},{"lfc":0.52,"nl":5.3},{"lfc":0.55,"nl":5.0},{"lfc":0.57,"nl":5.55},{"lfc":0.6,"nl":5.2},{"lfc":0.63,"nl":5.4},{"lfc":0.66,"nl":5.05},{"lfc":0.69,"nl":5.6},{"lfc":0.73,"nl":5.25},{"lfc":0.77,"nl":5.0},{"lfc":0.41,"nl":5.6},{"lfc":0.44,"nl":5.9},{"lfc":0.48,"nl":6.3},{"lfc":0.51,"nl":5.85},{"lfc":0.54,"nl":6.6},{"lfc":0.58,"nl":6.2},{"lfc":0.61,"nl":6.5},{"lfc":0.64,"nl":5.8},{"lfc":0.67,"nl":6.35},{"lfc":0.7,"nl":6.0},{"lfc":0.74,"nl":6.7},{"lfc":0.78,"nl":6.25},{"lfc":0.82,"nl":5.9},{"lfc":0.46,"nl":6.6},{"lfc":0.53,"nl":7.1},{"lfc":0.57,"nl":7.4},{"lfc":0.62,"nl":7.2},{"lfc":0.68,"nl":7.6},{"lfc":0.72,"nl":6.6},{"lfc":0.75,"nl":7.3},{"lfc":0.85,"nl":7.8},{"lfc":0.88,"nl":6.4},{"lfc":0.9,"nl":5.3},{"lfc":0.93,"nl":4.8},{"lfc":0.96,"nl":5.6},{"lfc":0.99,"nl":4.5}
 ],
 "B_lab": [
  {"lfc":-1.752,"nl":6.33,"t":"KCNK13"},{"lfc":-1.601,"nl":15.34,"t":"B3GNT7"},{"lfc":-1.0,"nl":17.31,"t":"PGPEP1"},{"lfc":0.997,"nl":20.83,"t":"MDN1"},{"lfc":1.662,"nl":18.24,"t":"ANO5"},{"lfc":1.589,"nl":16.5,"t":"SLC16A9"},{"lfc":0.701,"nl":9.41,"t":"NR4A3"},{"lfc":1.737,"nl":8.75,"t":"GPR141"},{"lfc":1.934,"nl":7.43,"t":"IGF2"},{"lfc":0.87,"nl":6.95,"t":"MT-ND4"},{"lfc":0.861,"nl":5.98,"t":"MT-CO1"}
 ],
 "B_title": [{"lfc":0.018,"nl":29.51,"t":"CO₂ sensitivity in shNR4A2 Cells"},{"lfc":0.044,"nl":26.13,"t":"(LPS Stimulated)"}],
 "B_box": [{"lfc":-1.639,"lfc2":-0.954,"nl":27.44,"nl2":22.44,"dir":"down"},{"lfc":1.175,"lfc2":1.864,"nl":27.44,"nl2":22.44,"dir":"up"}],
 "B_cnt": [{"lfc":-1.324,"nl":24.96,"t":"340","dir":"down"},{"lfc":1.49,"nl":24.96,"t":"306","dir":"up"}],
 "B_arrow": [{"lfc":-0.808,"nl":26.77,"nl2":23.5,"dir":"down"},{"lfc":2.019,"nl":22.37,"nl2":25.45,"dir":"up"}],
 "B_head": [{"lfc":-0.808,"nl":23.01,"dir":"down"},{"lfc":2.019,"nl":25.9,"dir":"up"}],
 "B_letter": [{"lfc":-3.358,"nl":22.93,"t":"B."}],
 "C_sets": [{"set":"shNT","n":380,"x":4.15,"y":2.71},{"set":"shNR4A2","n":52,"x":7.38,"y":2.6}],
 "C_num": [{"x":4.25,"y":2.48,"t":"338","k":"only"},{"x":7.16,"y":2.46,"t":"42","k":"both"},{"x":8.4,"y":2.46,"t":"10","k":"only"}],
 "C_gene": [{"x":6.92,"y":3.1,"t":"PYCR1"},{"x":6.94,"y":2.04,"t":"MT-CO1"},{"x":8.27,"y":1.94,"t":"TNF"}],
 "C_setlab": [{"x":-0.33,"y":6.83,"t":"shNT","set":"shNT"},{"x":11.08,"y":6.75,"t":"shNR4A2","set":"shNR4A2"}],
 "C_cap": [{"x":4.1,"y":-2.22,"t":"Basal"}],
 "C_letter": [{"x":-3.11,"y":5.73,"t":"C."}],
 "D_sets": [{"set":"shNT","n":1889,"x":4.29,"y":3.19},{"set":"shNR4A2","n":646,"x":7.03,"y":3.02}],
 "D_num": [{"x":3.04,"y":2.89,"t":"1401","k":"only"},{"x":6.46,"y":2.89,"t":"488","k":"both"},{"x":8.66,"y":2.89,"t":"158","k":"only"}],
 "D_gene": [{"x":8.52,"y":2.11,"t":"NR4A3"}],
 "D_setlab": [{"x":-0.33,"y":7.24,"t":"shNT","set":"shNT"},{"x":11.08,"y":7.17,"t":"shNR4A2","set":"shNR4A2"}],
 "D_cap": [{"x":4.05,"y":-1.93,"t":"+ LPS"}],
 "D_letter": [{"x":-3.11,"y":5.24,"t":"D."}]
},
"columns": 2,
"align": "each",
"bounds": "flush",
"spacing": {"row": 522, "column": 917},
"resolve": {"scale": {"size": "independent", "color": "independent", "fill": "independent"}},
"concat": [
 {
  "width": 1222, "height": 662,
  "layer": [
   {"data": {"name": "A_core"}, "mark": {"type": "area", "color": "black", "interpolate": "monotone"},
    "encoding": {
     "x": {"field": "lfc", "type": "quantitative", "scale": {"domain": [-2, 2], "nice": false, "zero": false},
      "axis": {"values": [-2, -1, 0, 1, 2], "labelExpr": "'' + datum.value", "labelPadding": 14, "title": "log₂FoldChange", "titleY": 168, "titleBaseline": "alphabetic"}},
     "y": {"field": "nl", "type": "quantitative", "scale": {"domain": [0, 20], "nice": false, "zero": false},
      "axis": {"values": [0, 5, 10, 15, 20], "labelExpr": "datum.value == 0 ? '2⁰' : datum.value == 5 ? '2⁻⁵' : datum.value == 10 ? '2⁻¹⁰' : datum.value == 15 ? '2⁻¹⁵' : datum.value == 20 ? '2⁻²⁰' : '2⁻²⁵'", "labelPadding": 6, "title": "padj", "titleX": -219, "titleBaseline": "middle"}},
     "y2": {"field": "nl2"},
     "detail": {"field": "side"}}},
   {"data": {"name": "A_ns"}, "mark": {"type": "circle", "color": "black", "size": 36, "opacity": 1},
    "encoding": {"x": {"field": "lfc", "type": "quantitative"}, "y": {"field": "nl", "type": "quantitative"}}},
   {"data": {"values": [{"nl": 4.32}]}, "mark": {"type": "rule", "color": "#444444", "strokeWidth": 2.5},
    "encoding": {"y": {"field": "nl", "type": "quantitative"}}},
   {"data": {"name": "A_dn"}, "mark": {"type": "circle", "color": "#FF2200", "size": 36, "opacity": 1},
    "encoding": {"x": {"field": "lfc", "type": "quantitative"}, "y": {"field": "nl", "type": "quantitative"}}},
   {"data": {"name": "A_up"}, "mark": {"type": "circle", "color": "#00EE00", "size": 36, "opacity": 1},
    "encoding": {"x": {"field": "lfc", "type": "quantitative"}, "y": {"field": "nl", "type": "quantitative"}}},
   {"data": {"name": "A_lab"}, "mark": {"type": "text", "align": "left", "baseline": "middle", "fontSize": 24, "font": "Liberation Sans", "color": "black"},
    "encoding": {"x": {"field": "lfc", "type": "quantitative"}, "y": {"field": "nl", "type": "quantitative"}, "text": {"field": "t"}}},
   {"data": {"name": "A_title"}, "mark": {"type": "text", "align": "center", "baseline": "alphabetic", "fontSize": 63, "fontWeight": "bold", "font": "Liberation Sans", "color": "black"},
    "encoding": {"x": {"field": "lfc", "type": "quantitative"}, "y": {"field": "nl", "type": "quantitative"}, "text": {"field": "t"}}},
   {"data": {"name": "A_box"}, "mark": {"type": "rect"},
    "encoding": {"x": {"field": "lfc", "type": "quantitative"}, "x2": {"field": "lfc2"}, "y": {"field": "nl", "type": "quantitative"}, "y2": {"field": "nl2"},
     "color": {"condition": {"test": "datum.dir == 'down'", "value": "#FF0000"}, "value": "#00FF00"}}},
   {"data": {"name": "A_cnt"}, "mark": {"type": "text", "align": "center", "baseline": "middle", "fontSize": 72, "font": "Liberation Sans"},
    "encoding": {"x": {"field": "lfc", "type": "quantitative"}, "y": {"field": "nl", "type": "quantitative"}, "text": {"field": "t"},
     "color": {"condition": {"test": "datum.dir == 'down'", "value": "white"}, "value": "black"}}},
   {"data": {"name": "A_arrow"}, "mark": {"type": "rule", "strokeWidth": 6},
    "encoding": {"x": {"field": "lfc", "type": "quantitative"}, "y": {"field": "nl", "type": "quantitative"}, "y2": {"field": "nl2"},
     "color": {"condition": {"test": "datum.dir == 'down'", "value": "#FF0000"}, "value": "#00FF00"}}},
   {"data": {"name": "A_head"}, "mark": {"type": "point", "filled": true, "size": 784, "opacity": 1},
    "encoding": {"x": {"field": "lfc", "type": "quantitative"}, "y": {"field": "nl", "type": "quantitative"},
     "shape": {"condition": {"test": "datum.dir == 'down'", "value": "M-1,-1L1,-1L0,1Z"}, "value": "M-1,1L1,1L0,-1Z"},
     "color": {"condition": {"test": "datum.dir == 'down'", "value": "#FF0000"}, "value": "#00FF00"}}},
   {"data": {"name": "A_letter"}, "mark": {"type": "text", "align": "left", "baseline": "alphabetic", "fontSize": 74, "fontWeight": "bold", "font": "Liberation Sans", "color": "black"},
    "encoding": {"x": {"field": "lfc", "type": "quantitative"}, "y": {"field": "nl", "type": "quantitative"}, "text": {"field": "t"}}}
  ]
 },
 {
  "width": 900, "height": 600,
  "layer": [
   {"data": {"name": "C_sets"}, "mark": {"type": "circle", "stroke": "black", "strokeWidth": 4, "strokeOpacity": 1, "opacity": 1},
    "encoding": {
     "x": {"field": "x", "type": "quantitative", "scale": {"domain": [0, 9], "nice": false, "zero": false}, "axis": null},
     "y": {"field": "y", "type": "quantitative", "scale": {"domain": [0, 6], "nice": false, "zero": false}, "axis": null},
     "size": {"field": "n", "type": "quantitative", "scale": {"domain": [0, 380], "range": [0, 583696]}, "legend": null},
     "fill": {"condition": {"test": "datum.set == 'shNT'", "value": "#9BBBE3"}, "value": "#FFCA2B"},
     "fillOpacity": {"condition": {"test": "datum.set == 'shNT'", "value": 1}, "value": 0.6}}},
   {"data": {"name": "C_num"}, "mark": {"type": "text", "align": "center", "baseline": "alphabetic", "fontSize": 58, "fontWeight": "bold", "font": "Liberation Sans"},
    "encoding": {"x": {"field": "x", "type": "quantitative"}, "y": {"field": "y", "type": "quantitative"}, "text": {"field": "t"},
     "color": {"condition": {"test": "datum.k == 'both'", "value": "#1E40F0"}, "value": "black"}}},
   {"data": {"name": "C_gene"}, "mark": {"type": "text", "align": "center", "baseline": "alphabetic", "fontSize": 27, "font": "Liberation Sans", "color": "black"},
    "encoding": {"x": {"field": "x", "type": "quantitative"}, "y": {"field": "y", "type": "quantitative"}, "text": {"field": "t"}}},
   {"data": {"name": "C_setlab"}, "transform": [{"filter": "datum.set == 'shNT'"}], "mark": {"type": "text", "align": "left", "baseline": "alphabetic", "fontSize": 72, "fontWeight": "bold", "font": "Liberation Sans", "color": "#A3BDE8"},
    "encoding": {"x": {"field": "x", "type": "quantitative"}, "y": {"field": "y", "type": "quantitative"}, "text": {"field": "t"}}},
   {"data": {"name": "C_setlab"}, "transform": [{"filter": "datum.set == 'shNR4A2'"}], "mark": {"type": "text", "align": "right", "baseline": "alphabetic", "fontSize": 72, "fontWeight": "bold", "font": "Liberation Sans", "color": "#FFC000"},
    "encoding": {"x": {"field": "x", "type": "quantitative"}, "y": {"field": "y", "type": "quantitative"}, "text": {"field": "t"}}},
   {"data": {"name": "C_cap"}, "mark": {"type": "text", "align": "center", "baseline": "alphabetic", "fontSize": 70, "fontWeight": "bold", "font": "Liberation Sans", "color": "black"},
    "encoding": {"x": {"field": "x", "type": "quantitative"}, "y": {"field": "y", "type": "quantitative"}, "text": {"field": "t"}}},
   {"data": {"name": "C_letter"}, "mark": {"type": "text", "align": "left", "baseline": "alphabetic", "fontSize": 72, "fontWeight": "bold", "font": "Liberation Sans", "color": "black"},
    "encoding": {"x": {"field": "x", "type": "quantitative"}, "y": {"field": "y", "type": "quantitative"}, "text": {"field": "t"}}}
  ]
 },
 {
  "width": 1231, "height": 665,
  "layer": [
   {"data": {"name": "B_core"}, "mark": {"type": "area", "color": "black", "interpolate": "monotone"},
    "encoding": {
     "x": {"field": "lfc", "type": "quantitative", "scale": {"domain": [-2, 2], "nice": false, "zero": false},
      "axis": {"values": [-2, -1, 0, 1, 2], "labelExpr": "'' + datum.value", "labelPadding": 14, "title": "log₂FoldChange", "titleY": 168, "titleBaseline": "alphabetic"}},
     "y": {"field": "nl", "type": "quantitative", "scale": {"domain": [0, 25], "nice": false, "zero": false},
      "axis": {"values": [0, 5, 10, 15, 20, 25], "labelExpr": "datum.value == 0 ? '2⁰' : datum.value == 5 ? '2⁻⁵' : datum.value == 10 ? '2⁻¹⁰' : datum.value == 15 ? '2⁻¹⁵' : datum.value == 20 ? '2⁻²⁰' : '2⁻²⁵'", "labelPadding": 6, "title": "padj", "titleX": -219, "titleBaseline": "middle"}},
     "y2": {"field": "nl2"},
     "detail": {"field": "side"}}},
   {"data": {"name": "B_ns"}, "mark": {"type": "circle", "color": "black", "size": 36, "opacity": 1},
    "encoding": {"x": {"field": "lfc", "type": "quantitative"}, "y": {"field": "nl", "type": "quantitative"}}},
   {"data": {"values": [{"nl": 4.32}]}, "mark": {"type": "rule", "color": "#444444", "strokeWidth": 2.5},
    "encoding": {"y": {"field": "nl", "type": "quantitative"}}},
   {"data": {"name": "B_dn"}, "mark": {"type": "circle", "color": "#FF3300", "size": 40, "opacity": 1},
    "encoding": {"x": {"field": "lfc", "type": "quantitative"}, "y": {"field": "nl", "type": "quantitative"}}},
   {"data": {"name": "B_up"}, "mark": {"type": "circle", "color": "#00EE00", "size": 40, "opacity": 1},
    "encoding": {"x": {"field": "lfc", "type": "quantitative"}, "y": {"field": "nl", "type": "quantitative"}}},
   {"data": {"name": "B_lab"}, "mark": {"type": "text", "align": "left", "baseline": "middle", "fontSize": 28, "font": "Liberation Sans", "color": "black"},
    "encoding": {"x": {"field": "lfc", "type": "quantitative"}, "y": {"field": "nl", "type": "quantitative"}, "text": {"field": "t"}}},
   {"data": {"name": "B_title"}, "mark": {"type": "text", "align": "center", "baseline": "alphabetic", "fontSize": 63, "fontWeight": "bold", "font": "Liberation Sans", "color": "black"},
    "encoding": {"x": {"field": "lfc", "type": "quantitative"}, "y": {"field": "nl", "type": "quantitative"}, "text": {"field": "t"}}},
   {"data": {"name": "B_box"}, "mark": {"type": "rect"},
    "encoding": {"x": {"field": "lfc", "type": "quantitative"}, "x2": {"field": "lfc2"}, "y": {"field": "nl", "type": "quantitative"}, "y2": {"field": "nl2"},
     "color": {"condition": {"test": "datum.dir == 'down'", "value": "#FF0000"}, "value": "#00FF00"}}},
   {"data": {"name": "B_cnt"}, "mark": {"type": "text", "align": "center", "baseline": "middle", "fontSize": 74, "font": "Liberation Sans"},
    "encoding": {"x": {"field": "lfc", "type": "quantitative"}, "y": {"field": "nl", "type": "quantitative"}, "text": {"field": "t"},
     "color": {"condition": {"test": "datum.dir == 'down'", "value": "white"}, "value": "black"}}},
   {"data": {"name": "B_arrow"}, "mark": {"type": "rule", "strokeWidth": 6},
    "encoding": {"x": {"field": "lfc", "type": "quantitative"}, "y": {"field": "nl", "type": "quantitative"}, "y2": {"field": "nl2"},
     "color": {"condition": {"test": "datum.dir == 'down'", "value": "#FF0000"}, "value": "#00FF00"}}},
   {"data": {"name": "B_head"}, "mark": {"type": "point", "filled": true, "size": 784, "opacity": 1},
    "encoding": {"x": {"field": "lfc", "type": "quantitative"}, "y": {"field": "nl", "type": "quantitative"},
     "shape": {"condition": {"test": "datum.dir == 'down'", "value": "M-1,-1L1,-1L0,1Z"}, "value": "M-1,1L1,1L0,-1Z"},
     "color": {"condition": {"test": "datum.dir == 'down'", "value": "#FF0000"}, "value": "#00FF00"}}},
   {"data": {"name": "B_letter"}, "mark": {"type": "text", "align": "left", "baseline": "alphabetic", "fontSize": 74, "fontWeight": "bold", "font": "Liberation Sans", "color": "black"},
    "encoding": {"x": {"field": "lfc", "type": "quantitative"}, "y": {"field": "nl", "type": "quantitative"}, "text": {"field": "t"}}}
  ]
 },
 {
  "width": 900, "height": 600,
  "layer": [
   {"data": {"name": "D_sets"}, "mark": {"type": "circle", "stroke": "black", "strokeWidth": 4, "strokeOpacity": 1, "opacity": 1},
    "encoding": {
     "x": {"field": "x", "type": "quantitative", "scale": {"domain": [0, 9], "nice": false, "zero": false}, "axis": null},
     "y": {"field": "y", "type": "quantitative", "scale": {"domain": [0, 6], "nice": false, "zero": false}, "axis": null},
     "size": {"field": "n", "type": "quantitative", "scale": {"domain": [0, 1889], "range": [0, 589824]}, "legend": null},
     "fill": {"condition": {"test": "datum.set == 'shNT'", "value": "#9BBBE3"}, "value": "#FFCA2B"},
     "fillOpacity": {"condition": {"test": "datum.set == 'shNT'", "value": 1}, "value": 0.6}}},
   {"data": {"name": "D_num"}, "mark": {"type": "text", "align": "center", "baseline": "alphabetic", "fontSize": 58, "fontWeight": "bold", "font": "Liberation Sans"},
    "encoding": {"x": {"field": "x", "type": "quantitative"}, "y": {"field": "y", "type": "quantitative"}, "text": {"field": "t"},
     "color": {"condition": {"test": "datum.k == 'both'", "value": "#1E40F0"}, "value": "black"}}},
   {"data": {"name": "D_gene"}, "mark": {"type": "text", "align": "center", "baseline": "alphabetic", "fontSize": 27, "font": "Liberation Sans", "color": "black"},
    "encoding": {"x": {"field": "x", "type": "quantitative"}, "y": {"field": "y", "type": "quantitative"}, "text": {"field": "t"}}},
   {"data": {"name": "D_setlab"}, "transform": [{"filter": "datum.set == 'shNT'"}], "mark": {"type": "text", "align": "left", "baseline": "alphabetic", "fontSize": 72, "fontWeight": "bold", "font": "Liberation Sans", "color": "#A3BDE8"},
    "encoding": {"x": {"field": "x", "type": "quantitative"}, "y": {"field": "y", "type": "quantitative"}, "text": {"field": "t"}}},
   {"data": {"name": "D_setlab"}, "transform": [{"filter": "datum.set == 'shNR4A2'"}], "mark": {"type": "text", "align": "right", "baseline": "alphabetic", "fontSize": 72, "fontWeight": "bold", "font": "Liberation Sans", "color": "#FFC000"},
    "encoding": {"x": {"field": "x", "type": "quantitative"}, "y": {"field": "y", "type": "quantitative"}, "text": {"field": "t"}}},
   {"data": {"name": "D_cap"}, "mark": {"type": "text", "align": "center", "baseline": "alphabetic", "fontSize": 72, "fontWeight": "bold", "font": "Liberation Sans", "color": "black"},
    "encoding": {"x": {"field": "x", "type": "quantitative"}, "y": {"field": "y", "type": "quantitative"}, "text": {"field": "t"}}},
   {"data": {"name": "D_letter"}, "mark": {"type": "text", "align": "left", "baseline": "alphabetic", "fontSize": 72, "fontWeight": "bold", "font": "Liberation Sans", "color": "black"},
    "encoding": {"x": {"field": "x", "type": "quantitative"}, "y": {"field": "y", "type": "quantitative"}, "text": {"field": "t"}}}
  ]
 }
]
}
